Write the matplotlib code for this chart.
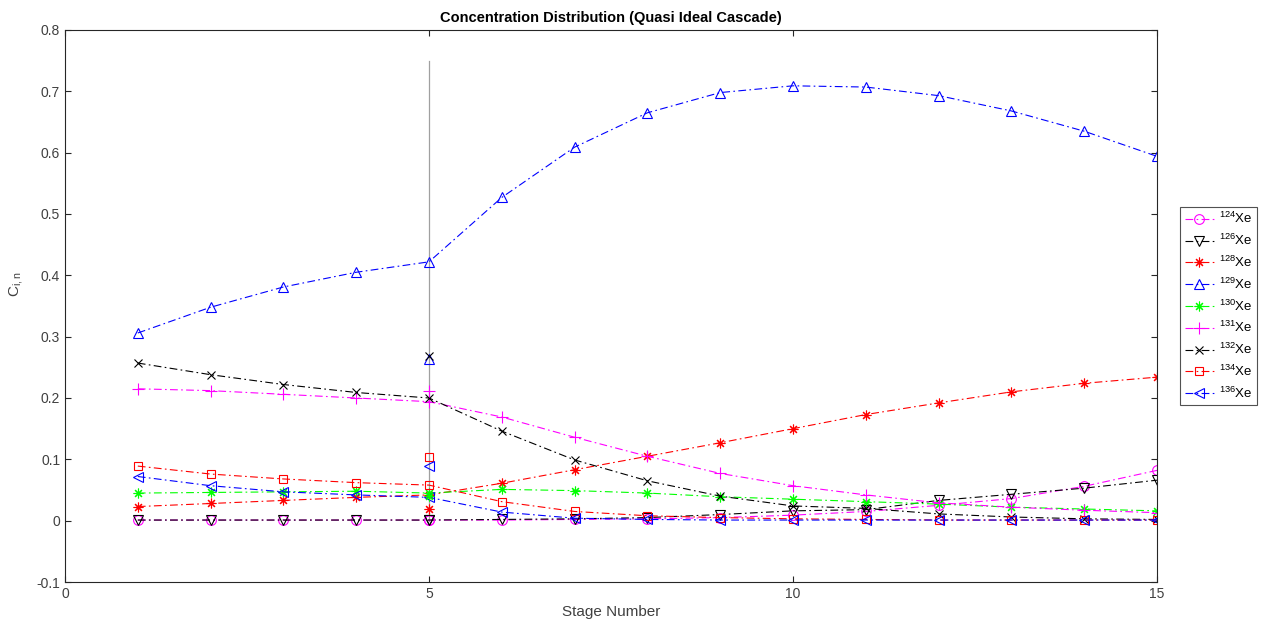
import matplotlib
matplotlib.use("Agg")
import matplotlib.pyplot as plt
import numpy as np

plt.rcParams['font.family'] = ['Liberation Sans', 'DejaVu Sans']
plt.rcParams['mathtext.fontset'] = 'custom'
plt.rcParams['mathtext.rm'] = 'Liberation Sans'
plt.rcParams['mathtext.it'] = 'Liberation Sans'

stages = list(range(1, 16))

xe124 = [0.001, 0.001, 0.001, 0.001, 0.001, 0.001, 0.002, 0.003, 0.005, 0.009, 0.015, 0.025, 0.036, 0.056, 0.082]
xe126 = [0.001, 0.001, 0.001, 0.001, 0.001, 0.002, 0.003, 0.005, 0.010, 0.016, 0.018, 0.033, 0.043, 0.053, 0.066]
xe128 = [0.023, 0.028, 0.033, 0.038, 0.042, 0.061, 0.083, 0.105, 0.127, 0.150, 0.173, 0.192, 0.210, 0.224, 0.234]
xe129 = [0.306, 0.348, 0.381, 0.405, 0.422, 0.527, 0.609, 0.665, 0.698, 0.709, 0.707, 0.693, 0.668, 0.635, 0.594]
xe130 = [0.045, 0.046, 0.047, 0.048, 0.045, 0.051, 0.049, 0.045, 0.039, 0.035, 0.031, 0.027, 0.022, 0.019, 0.016]
xe131 = [0.215, 0.212, 0.206, 0.200, 0.194, 0.169, 0.136, 0.105, 0.077, 0.057, 0.042, 0.029, 0.022, 0.017, 0.013]
xe132 = [0.257, 0.238, 0.222, 0.209, 0.200, 0.146, 0.099, 0.065, 0.040, 0.024, 0.020, 0.011, 0.006, 0.003, 0.002]
xe134 = [0.089, 0.076, 0.068, 0.062, 0.058, 0.031, 0.015, 0.008, 0.005, 0.003, 0.002, 0.001, 0.001, 0.001, 0.001]
xe136 = [0.072, 0.057, 0.047, 0.042, 0.038, 0.014, 0.004, 0.002, 0.001, 0.001, 0.001, 0.001, 0.001, 0.001, 0.001]

# feed (natural xenon) composition plotted at the feed stage
feed_stage = 5
feed = [0.001, 0.001, 0.019, 0.264, 0.041, 0.212, 0.269, 0.104, 0.089]

labels = [r'$^{124}$Xe', r'$^{126}$Xe', r'$^{128}$Xe', r'$^{129}$Xe', r'$^{130}$Xe',
          r'$^{131}$Xe', r'$^{132}$Xe', r'$^{134}$Xe', r'$^{136}$Xe']
series = [xe124, xe126, xe128, xe129, xe130, xe131, xe132, xe134, xe136]
colors = ['#ff00ff', '#000000', '#ff0000', '#0000ff', '#00ff00', '#ff00ff', '#000000', '#ff0000', '#0000ff']
asterisk = (8, 2, 0)
markers = ['o', 'v', asterisk, '^', asterisk, '+', 'x', 's', '<']
msizes = [7, 7, 7, 7, 7, 8, 6, 6, 7]

fig = plt.figure(figsize=(12.63, 6.28), dpi=100)
ax = fig.add_axes([65/1263, 46/628, (1157-65)/1263, (582-30)/628])

ax.plot([feed_stage, feed_stage], [0, 0.75], color='#a0a0a0', lw=0.9, zorder=1)

for s, lab, c, m, ms in zip(series, labels, colors, markers, msizes):
    ax.plot(stages, s, linestyle='-.', color=c, lw=0.8, marker=m, markersize=ms,
            markerfacecolor='none', markeredgecolor=c, markeredgewidth=0.8, label=lab,
            dashes=(7, 3, 1.5, 3))

for f, c, m, ms in zip(feed, colors, markers, msizes):
    ax.plot([feed_stage], [f], linestyle='none', marker=m, markersize=ms,
            markerfacecolor='none', markeredgecolor=c, markeredgewidth=0.8)

ax.set_xlim(0, 15)
ax.set_ylim(-0.1, 0.8)
ax.set_xticks([0, 5, 10, 15])
ax.set_yticks(np.arange(-0.1, 0.81, 0.1))
ax.set_yticklabels(['-0.1', '0', '0.1', '0.2', '0.3', '0.4', '0.5', '0.6', '0.7', '0.8'])
ax.tick_params(direction='in', length=4, width=0.8, colors='#262626', labelsize=10,
               top=True, right=True, labelcolor='#404040')
for sp in ax.spines.values():
    sp.set_color('#262626')
    sp.set_linewidth(0.8)

ax.set_title('Concentration Distribution (Quasi Ideal Cascade)', fontsize=10.5,
             fontweight='bold', pad=6)
ax.set_xlabel('Stage Number', fontsize=11, color='#404040', labelpad=3)
ax.set_ylabel(r'C$_{\rm i,n}$', fontsize=11, color='#404040', labelpad=8)
ax.yaxis.set_label_coords(-0.037, 0.54)

leg = fig.legend(loc='center left', bbox_to_anchor=(1180/1263, 1 - 306/628),
                 fontsize=9.5, handlelength=2.2, handletextpad=0.4, borderpad=0.35,
                 labelspacing=0.5, frameon=True, fancybox=False, borderaxespad=0)
leg.get_frame().set_edgecolor('#262626')
leg.get_frame().set_linewidth(0.8)

fig.savefig('out.png', dpi=100)
